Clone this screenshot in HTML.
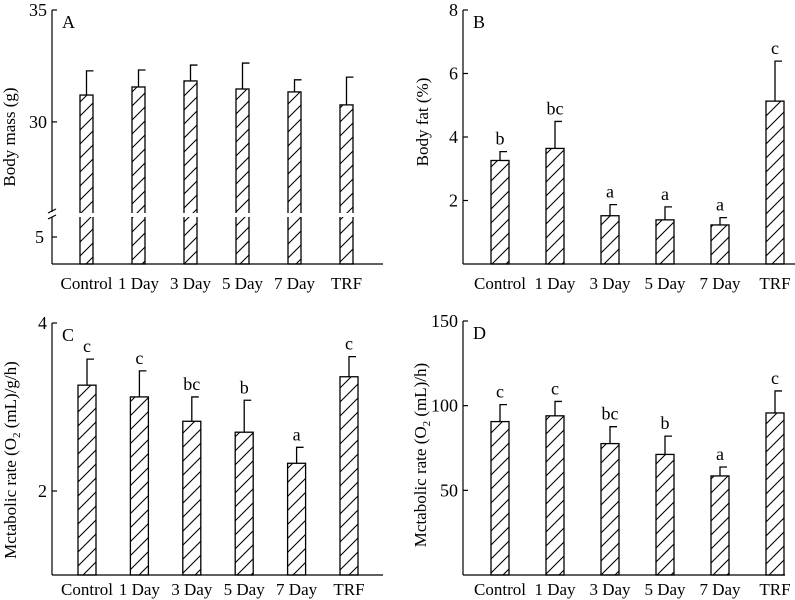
<!DOCTYPE html>
<html><head><meta charset="utf-8"><style>
body{margin:0;background:#fff}
svg{display:block;font-family:"Liberation Serif",serif}
</style></head><body>
<svg id="chart" width="795" height="600" viewBox="0 0 795 600">
<defs>
<pattern id="hatch" patternUnits="userSpaceOnUse" width="14" height="14">
<path d="M-2,16 L16,-2 M-2,2 L2,-2 M12,16 L16,12" stroke="#000" stroke-width="1.1"/>
</pattern>
</defs>
</svg>
<script>
const categories=["Control","1 Day","3 Day","5 Day","7 Day","TRF"];
const massMean=[31.2,31.56,31.83,31.47,31.34,30.76];
const massErr=[32.28,32.32,32.54,32.63,31.88,32.0];
const fatMean=[3.26,3.64,1.52,1.39,1.23,5.13];
const fatErr=[3.54,4.49,1.87,1.8,1.46,6.39];
const fatLetters=["b","bc","a","a","a","c"];
const mrgMean=[3.26,3.12,2.83,2.70,2.33,3.36];
const mrgErr=[3.57,3.43,3.12,3.08,2.52,3.60];
const mrgLetters=["c","c","bc","b","a","c"];
const mrMean=[90.6,94,77.6,71.2,58.5,95.7];
const mrErr=[100.6,102.5,87.6,82,63.8,108.7];
const mrLetters=["c","c","bc","b","a","c"];
const ticksA=[35,30];const ticksB=[8,6,4,2];const ticksC=[4,2];const ticksD=[150,100,50];

const svg=document.getElementById('chart');
const NS='http://www.w3.org/2000/svg';
function mk(t,a,p){const e=document.createElementNS(NS,t);for(const k in a)e.setAttribute(k,a[k]);(p||svg).appendChild(e);return e;}
function txt(x,y,s,p,anchor,size){const e=mk('text',{x:x,y:y,'font-size':size||17,'text-anchor':anchor||'middle'},p);e.textContent=s;return e;}

function panel(o){
  const g=mk('g',{});
  
  
  const y=v=>o.y0-(v-o.vmin)/(o.vmax-o.vmin)*(o.y0-o.ytop);
  const xc=i=>o.x0+o.firstX+i*o.step;
  const ax=mk('g',{},g);
  
  
  if(o.brk){
    mk('line',{x1:o.ax,y1:o.ytop,x2:o.ax,y2:212,stroke:'#000','stroke-width':1.2},ax);
    mk('line',{x1:o.ax,y1:217,x2:o.ax,y2:o.y0,stroke:'#000','stroke-width':1.2},ax);
    mk('line',{x1:o.ax-4,y1:213,x2:o.ax+4,y2:209,stroke:'#000','stroke-width':1.2},ax);
    mk('line',{x1:o.ax-4,y1:219,x2:o.ax+4,y2:215,stroke:'#000','stroke-width':1.2},ax);
    mk('line',{x1:o.ax,y1:237,x2:o.ax+5,y2:237,stroke:'#000','stroke-width':1.2},ax);
    txt(o.ax-8,243,'5',ax,'end',18);
  } else mk('line',{x1:o.ax,y1:o.ytop,x2:o.ax,y2:o.y0,stroke:'#000','stroke-width':1.2},ax);
  mk('line',{x1:o.ax,y1:o.y0,x2:o.xend,y2:o.y0,stroke:'#000','stroke-width':1.2},ax);
  o.ticks.forEach(t=>{
    const ty=y(t);
    const tl=mk('line',{x1:o.ax,y1:ty,x2:o.ax+5,y2:ty,stroke:'#000','stroke-width':1.2},ax);
    
    const lb=txt(o.ax-5,ty+6,String(t),ax,'end',18);
    
  });
  const tt=txt(0,0,'',g,'middle',17);
  tt.setAttribute('transform','translate('+o.tx+','+o.ty+') rotate(-90)');
  tt.innerHTML=o.title;
  
  
  const pl=txt(o.ax+10,o.ytop+18,o.letter,g,'start',18);
  
  categories.forEach((c,i)=>{
    const cx=xc(i),top=y(o.mean[i]),et=y(o.err[i]);
    const b=mk('rect',{x:cx-o.bw/2,y:top,width:o.bw,height:o.y0-top,fill:'url(#hatch)',stroke:'#000','stroke-width':1.3},g);
    
    
    if(o.brk) mk('rect',{x:cx-o.bw/2-1,y:213,width:o.bw+2,height:4,fill:'#fff'},g);
    const eb=mk('path',{d:'M'+cx+','+top+' V'+et+' H'+(cx+7),stroke:'#000','stroke-width':1.3,fill:'none'},g);
    
    
    if(o.letters){const l=txt(cx,et-7,o.letters[i],g,'middle',18);
      }
    const cl=txt(cx,o.y0+o.labOff,c,g,'middle',17);
    
  });
}
panel({name:'panel-a-body-mass',letter:'A',ax:52,x0:52,firstX:34.5,step:52,bw:13,xend:383,ytop:10,y0:264,vmin:23.65,vmax:35,mean:massMean,err:massErr,ticks:ticksA,brk:true,title:'Body mass (g)',tx:15,ty:137,labOff:25});
panel({name:'panel-b-body-fat',letter:'B',ax:463,x0:463,firstX:37,step:55,bw:18,xend:795,ytop:10,y0:264,vmin:0,vmax:8,mean:fatMean,err:fatErr,letters:fatLetters,ticks:ticksB,title:'Body fat (%)',tx:428,ty:122,labOff:25});
panel({name:'panel-c-metabolic-rate-mass',letter:'C',ax:52,x0:52,firstX:35,step:52.4,bw:18,xend:383,ytop:323,y0:575,vmin:1,vmax:4,mean:mrgMean,err:mrgErr,letters:mrgLetters,ticks:ticksC,title:'Mctabolic rate (O<tspan font-size="11" dy="4">2</tspan><tspan dy="-4"> (mL)/g/h)</tspan>',tx:16,ty:460,labOff:20});
panel({name:'panel-d-metabolic-rate',letter:'D',ax:463,x0:463,firstX:37,step:55,bw:18,xend:785,ytop:321,y0:575,vmin:0,vmax:150,mean:mrMean,err:mrErr,letters:mrLetters,ticks:ticksD,title:'Mctabolic rate (O<tspan font-size="11" dy="4">2</tspan><tspan dy="-4"> (mL)/h)</tspan>',tx:426,ty:455,labOff:20});
</script>
</body></html>
